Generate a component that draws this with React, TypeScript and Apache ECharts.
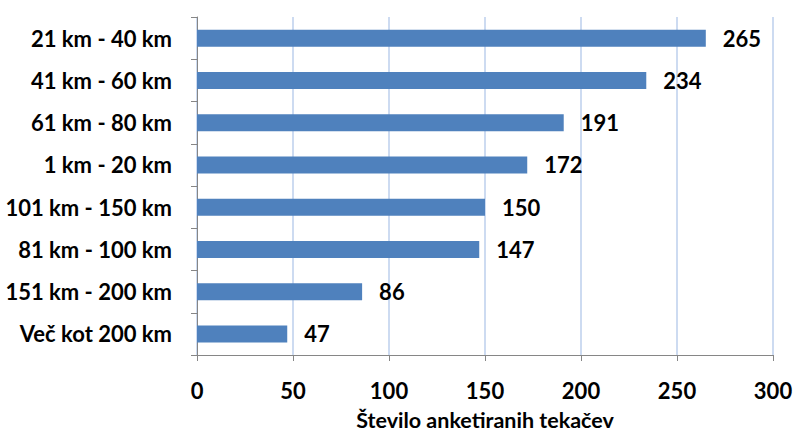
import React, { useEffect, useRef } from "react";
import * as echarts from "echarts";

const categories = [
  "21 km - 40 km",
  "41 km - 60 km",
  "61 km - 80 km",
  "1 km - 20 km",
  "101 km - 150 km",
  "81 km - 100 km",
  "151 km - 200 km",
  "Več kot 200 km",
];
const counts = [265, 234, 191, 172, 150, 147, 86, 47];
const axisTitle = "Število anketiranih tekačev";

const FONT = "Lato, 'Open Sans', sans-serif";
const FS = 22;

export default function App() {
  const ref = useRef<HTMLDivElement>(null);

  useEffect(() => {
    if (!ref.current) return;
    const chart = echarts.init(ref.current, null, { renderer: "svg" });
    chart.setOption({
      animation: false,
      grid: {
        left: 197,
        right: 20,
        top: 17,
        bottom: 78,
        containLabel: false,
        outerBoundsMode: "none",
      },
      xAxis: {
        type: "value",
        min: 0,
        max: 300,
        interval: 50,
        name: axisTitle,
        nameLocation: "middle",
        nameGap: 54,
        nameTextStyle: {
          fontFamily: FONT,
          fontSize: 21.5,
          fontWeight: "bold",
          color: "#000",
          lineHeight: 22,
        },
        axisLine: { show: true, lineStyle: { color: "#868686", width: 1 } },
        axisTick: { show: true, length: 6, lineStyle: { color: "#868686" } },
        axisLabel: {
          fontFamily: FONT,
          fontSize: FS,
          fontWeight: "bold",
          color: "#000",
          margin: 24,
          lineHeight: 22,
        },
        splitLine: { show: true, lineStyle: { color: "#bccfec", width: 1.5 } },
      },
      yAxis: {
        type: "category",
        data: categories,
        inverse: true,
        axisLine: { show: true, lineStyle: { color: "#868686", width: 1 } },
        axisTick: { show: true, length: 6, lineStyle: { color: "#868686" } },
        axisLabel: { fontFamily: FONT, fontSize: FS, fontWeight: "bold", color: "#000", margin: 25 },
        splitLine: { show: false },
      },
      series: [
        {
          type: "bar",
          data: counts,
          barWidth: 17,
          itemStyle: { color: "#4f81bd" },
          label: {
            show: true,
            position: "right",
            distance: 17,
            fontFamily: FONT,
            fontSize: FS,
            fontWeight: "bold",
            color: "#000",
          },
        },
      ],
    });
    return () => chart.dispose();
  }, []);

  return <div ref={ref} style={{ width: 793, height: 433, position: "absolute", left: 0, top: 0 }} />;
}
